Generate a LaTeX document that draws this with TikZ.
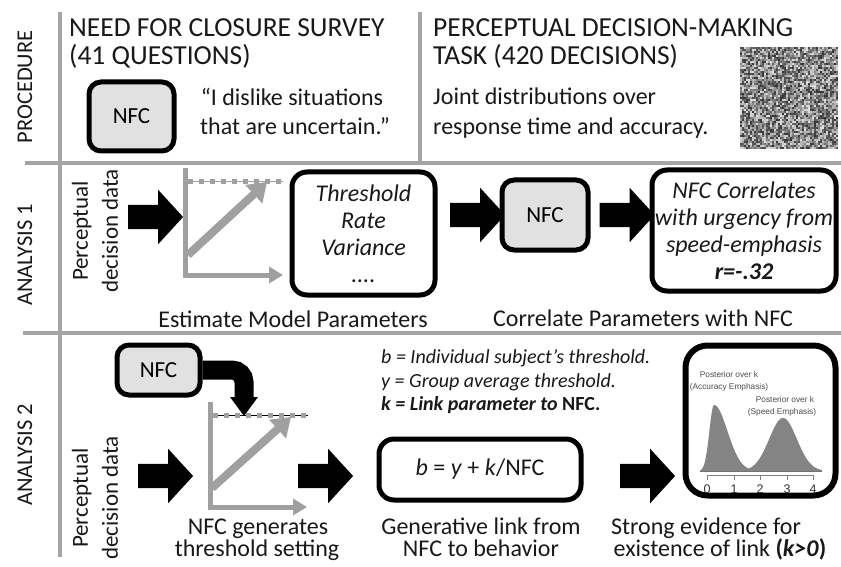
\documentclass[tikz,border=0pt]{standalone}
\usepackage{fontspec}
\setmainfont{Carlito}
\newfontfamily\plotfont{Liberation Sans}
\usetikzlibrary{arrows.meta,shapes.arrows}
\definecolor{sepgray}{RGB}{165,165,165}
\definecolor{axgray}{RGB}{160,160,160}
\definecolor{nfcfill}{RGB}{225,225,225}
\definecolor{postgray}{RGB}{132,132,132}
\definecolor{txt}{RGB}{25,25,25}
\tikzset{
 sepline/.style={sepgray, line width=3.5pt},
 rowlabel/.style={rotate=90, font=\fontsize{22.5}{27}\selectfont, inner sep=0pt, text=txt},
 title/.style={anchor=base west, font=\fontsize{27.5}{33}\selectfont, inner sep=0pt, text=txt},
 body/.style={font=\fontsize{24}{29}\selectfont, inner sep=0pt, text=txt},
 boxtext/.style={font=\fontsize{24}{27}\itshape, text=txt},
 small/.style={font=\fontsize{20}{23.5}\selectfont\itshape, inner sep=0pt, anchor=base west, text=txt},
 roundbox/.style={draw=black, line width=5pt, rounded corners=15pt, align=center, inner sep=0pt},
 nfcbox/.style={roundbox, fill=nfcfill, rounded corners=12pt, font=\fontsize{23}{27}\selectfont},
 blockarrow/.style={single arrow, fill=black, draw=none, inner xsep=0pt, inner ysep=12pt,
   single arrow head extend=15pt, minimum height=55pt, single arrow tip angle=95},
 axisline/.style={axgray, line width=5pt, line join=miter, -{Triangle[length=14pt,width=16pt]}},
 diagarrow/.style={axgray, line width=8pt, -{Triangle[length=18pt,width=24pt]}},
 dashline/.style={axgray, line width=5pt, dash pattern=on 5pt off 6pt},
 plotlabel/.style={font=\plotfont\fontsize{8.3}{9}\selectfont, text={black!70}, inner sep=0pt},
 ticklabel/.style={font=\plotfont\fontsize{12.5}{14}\selectfont, text={black!80}, inner sep=0pt},
 tickline/.style={black!50, line width=0.7pt},
}
\begin{document}
\begin{tikzpicture}[x=1pt,y=-1pt]
\useasboundingbox[fill=white] (0,0) rectangle (841,567);

% separators
\draw[sepline] (60,12) -- (60,557);
\draw[sepline] (420,12) -- (420,163);
\draw[sepline] (25,163) -- (841,163);
\draw[sepline] (23,333) -- (841,333);

% row labels
\node[rowlabel] (lproc) at (25,87) {PROCEDURE};
\node[rowlabel] (lan1) at (25,255) {ANALYSIS 1};
\node[rowlabel] (lan2) at (25,455) {ANALYSIS 2};

% ---------- procedure ----------
\node[title] (t1a) at (69,37) {NEED FOR CLOSURE SURVEY};
\node[title] (t1b) at (69,65) {(41 QUESTIONS)};
\node[nfcbox, minimum width=85pt, minimum height=69pt] (nfc0) at (131.5,116.5) {NFC};
\node[body, anchor=base] (q1) at (292,106) {“I dislike situations};
\node[body, anchor=base] (q2) at (295,135) {that are uncertain.”};

\node[title] (t2a) at (433,37) {PERCEPTUAL DECISION-MAKING};
\node[title] (t2b) at (433,65) {TASK (420 DECISIONS)};
\node[body, anchor=base west] (j1) at (433,105) {Joint distributions over};
\node[body, anchor=base west] (j2) at (433,135) {response time and accuracy.};

\pgfmathsetseed{17}
\foreach \i in {0,...,48}{
  \foreach \j in {0,...,50}{
    \pgfmathsetmacro\g{12+rnd*68}
    \fill[black!\g] (740+2*\i,47+2*\j) rectangle ++(2,2);
  }
}

% ---------- analysis 1 ----------
\node[body, rotate=90, align=center, font=\fontsize{23}{30}\selectfont] (pd1) at (95,231) {Perceptual\\decision data};
\node[blockarrow] (a1) at (150,217) {};
\draw[axgray, line width=1pt] (188,182) -- (283,182);
\draw[dashline] (188,182) -- (283,182);
\draw[axisline] (185,168) -- (185,275) coordinate (o1) -- (283,275) coordinate (xend1);
\coordinate (dstart1) at (188,255);
\coordinate (dtip1) at (267,182);
\draw[diagarrow] (dstart1) -- (dtip1);
\node[roundbox, boxtext, minimum width=143pt, minimum height=123pt] (params) at (363.5,233.5)
  {Threshold\\Rate\\Variance\\....};
\node[body, anchor=base] (est) at (293,327) {Estimate Model Parameters};
\node[blockarrow] (a2) at (472,215) {};
\node[nfcbox, minimum width=86pt, minimum height=70pt] (nfc1) at (545,215) {NFC};
\node[blockarrow] (a3) at (621.5,215) {};
\node[roundbox, boxtext, minimum width=184pt, minimum height=121pt] (corr) at (744,230.5)
  {NFC Correlates\\with urgency from\\speed-emphasis\\\textbf{r=-.32}};
\node[body, anchor=base] (cpw) at (643,326) {Correlate Parameters with NFC};

% ---------- analysis 2 ----------
\node[body, rotate=90, align=center, font=\fontsize{23}{30}\selectfont] (pd2) at (95,498) {Perceptual\\decision data};
\node[nfcbox, minimum width=83pt, minimum height=50pt] (nfc2) at (158.5,370) {NFC};
\coordinate (bend) at (244,398);
\draw[line width=19pt, rounded corners=12pt] (nfc2.east) -| (bend);
\coordinate (thr2) at (244,416);
\fill (230,397) -- (258,397) -- (thr2) -- cycle;

\node[blockarrow] (b1) at (160,476) {};
\draw[black, line width=0.8pt] (213,415) -- (308,415);
\draw[dashline] (213,415) -- (308,415);
\draw[axisline] (210,402) -- (210,507) coordinate (o2) -- (307,507) coordinate (xend2);
\coordinate (dstart2) at (212,488);
\coordinate (dtip2) at (291,417);
\draw[diagarrow] (dstart2) -- (dtip2);
\node[body, anchor=base] (gen1) at (258,534) {NFC generates};
\node[body, anchor=base] (gen2) at (257,556) {threshold setting};

\node[small] (l1) at (381,363) {b = Individual subject’s threshold.};
\node[small] (l2) at (381,387) {y = Group average threshold.};
\node[small] (l3) at (381,410) {\bfseries k = Link parameter to \upshape NFC.};

\node[blockarrow] (b2) at (320,476) {};
\node[roundbox, minimum width=202pt, minimum height=61pt, font=\fontsize{24}{27}\selectfont, text=txt] (formula) at (480,469.5)
  {\textit{b} = \textit{y} + \textit{k}/NFC};
\node[body, anchor=base] (gl1) at (481,534) {Generative link from};
\node[body, anchor=base] (gl2) at (481,556) {NFC to behavior};

\node[blockarrow] (b3) at (642,476) {};
\node[roundbox, line width=6pt, rounded corners=22pt, minimum width=150pt, minimum height=150pt] (post) at (760.5,420.5) {};
% posterior curves
\fill[postgray] (700,471) -- plot[domain=700:775,samples=90,smooth] (\x,{471-66*exp(-((\x-714)/((\x<714)?6.5:19))^2)}) -- (775,471) -- cycle;
\fill[postgray] (742,471) -- plot[domain=742:822,samples=90,smooth] (\x,{471-53*exp(-((\x-783)/(19.5))^2)}) -- (822,471) -- cycle;
\draw[black!55, line width=0.5pt] (700,471) -- (822,471);
\draw[tickline] (707,480) -- (707,475.5) -- (813,475.5) -- (813,480);
\foreach \xx in {734,760,787}{\draw[tickline] (\xx,475.5) -- (\xx,480);}
\foreach \t/\xx in {0/707,1/734,2/760,3/787,4/813}{\node[ticklabel] (tk\t) at (\xx,489) {\t};}
\node[plotlabel] (pa1) at (729,375) {Posterior over k};
\node[plotlabel] (pa2) at (729,387) {(Accuracy Emphasis)};
\node[plotlabel] (ps1) at (785,400) {Posterior over k};
\node[plotlabel] (ps2) at (782,412) {(Speed Emphasis)};

\node[body, anchor=base] (se1) at (706,534) {Strong evidence for};
\node[body, anchor=base] (se2) at (720,556) {existence of link \textbf{(\textit{k>0})}};
\end{tikzpicture}
\end{document}
